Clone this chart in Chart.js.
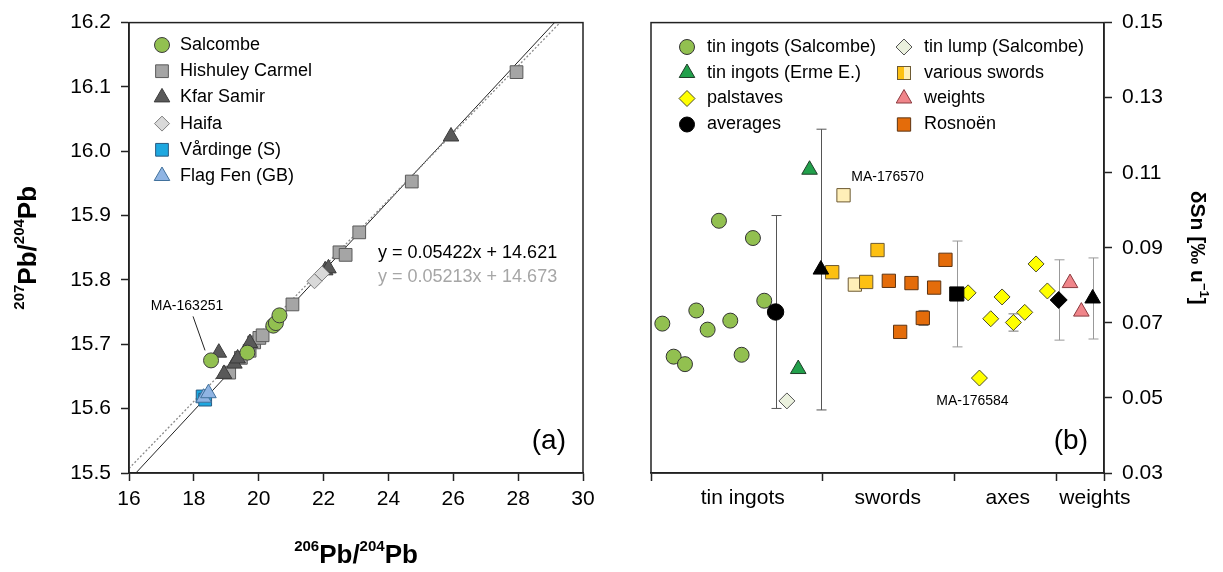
<!DOCTYPE html>
<html>
<head>
<meta charset="utf-8">
<script src="https://cdn.jsdelivr.net/npm/chart.js@4.4.1/dist/chart.umd.min.js"></script>
<style>
  body { margin: 0; background: #fff; }
  #wrap { position: relative; width: 1223px; height: 572px; }
  canvas { position: absolute; top: 0; }
  #leadChart { left: 0; }
  #tinChart { left: 620px; }
</style>
</head>
<body>
<div id="wrap">
  <canvas id="leadChart" width="620" height="572"></canvas>
  <canvas id="tinChart" width="603" height="572"></canvas>
</div>
<script>
// ---------- (a) lead isotope ratios ----------
const pbXTicks = [16, 18, 20, 22, 24, 26, 28, 30];
const pbYTicks = [15.5, 15.6, 15.7, 15.8, 15.9, 16.0, 16.1, 16.2];

const salcombeX = [18.53, 19.65, 20.45, 20.53, 20.64];
const salcombeY = [15.675, 15.687, 15.729, 15.733, 15.745];
const hishuleyX = [19.09, 19.45, 19.72, 19.86, 20.02, 20.12, 21.04, 22.49, 22.68, 23.10, 24.72, 27.95];
const hishuleyY = [15.656, 15.679, 15.690, 15.703, 15.710, 15.714, 15.762, 15.843, 15.839, 15.874, 15.953, 16.123];
const kfarX = [18.77, 18.93, 19.25, 19.35, 19.73, 22.05, 22.15, 25.93];
const kfarY = [15.687, 15.654, 15.670, 15.678, 15.702, 15.815, 15.818, 16.023];
const haifaX = [21.72, 21.95];
const haifaY = [15.798, 15.810];
const vardingeX = [18.27, 18.35];
const vardingeY = [15.619, 15.614];
const flagFenX = [18.30, 18.45];
const flagFenY = [15.617, 15.624];

// regression lines: all data (solid) and without outlier (dotted)
const fitSlope = [0.05422, 0.05213];
const fitIntercept = [14.621, 14.673];
const fitText = ["y = 0.05422x + 14.621", "y = 0.05213x + 14.673"];

// ---------- (b) tin isotope fractionation ----------
const snTicks = [0.03, 0.05, 0.07, 0.09, 0.11, 0.13, 0.15];
const groupBounds = [0, 15.1, 26.8, 35.8, 40];
const groupCenters = [8.1, 20.9, 31.5, 39.2];
const groupLabels = ["tin ingots", "swords", "axes", "weights"];

const ingotSalX = [1, 2, 3, 4, 5, 6, 7, 8, 9, 10];
const ingotSalY = [0.0698, 0.0610, 0.0590, 0.0733, 0.0682, 0.0972, 0.0706, 0.0615, 0.0926, 0.0759];
const lumpX = [12];
const lumpY = [0.0492];
const ingotErmeX = [13, 14];
const ingotErmeY = [0.0577, 0.1108];
const swordGoldX = [16, 19, 20];
const swordGoldY = [0.0835, 0.0809, 0.0894];
const swordPaleX = [17, 18];
const swordPaleY = [0.1040, 0.0802];
const rosnoenX = [21, 22, 23, 24, 25, 26];
const rosnoenY = [0.0812, 0.0676, 0.0806, 0.0713, 0.0794, 0.0868];
const palstaveX = [28, 29, 30, 31, 32, 33, 34, 35];
const palstaveY = [0.0780, 0.0553, 0.0711, 0.0769, 0.0701, 0.0728, 0.0857, 0.0785];
const weightX = [37, 38];
const weightY = [0.0806, 0.0730];
const averageX = [11, 15, 27, 36, 39];
const averageY = [0.0729, 0.0842, 0.0777, 0.0761, 0.0765];
const averageErr = [0.0257, 0.0374, 0.0141, 0.0107, 0.0108];
const averageShape = ["circle", "triangle", "rect", "rectRot", "triangle"];
// single measurements with visible uncertainty
const sampleErrX = [24, 32];
const sampleErrY = [0.0713, 0.0701];
const sampleErr = [0.0020, 0.0023];

const FONT = "'Liberation Sans', Arial, Helvetica, sans-serif";
Chart.defaults.font.family = FONT;
Chart.defaults.color = "#000";
Chart.defaults.animation = false;

const pairs = (xs, ys) => xs.map((x, i) => ({ x: x, y: ys[i] }));

function fitSegment(k) {
  const m = fitSlope[k], b = fitIntercept[k];
  const lo = pbYTicks[0], hi = pbYTicks[pbYTicks.length - 1];
  const x0 = Math.max(pbXTicks[0], (lo - b) / m);
  const x1 = Math.min(pbXTicks[pbXTicks.length - 1], (hi - b) / m);
  return [{ x: x0, y: m * x0 + b }, { x: x1, y: m * x1 + b }];
}

function drawMarker(ctx, style, x, y) {
  ctx.save();
  ctx.fillStyle = style.backgroundColor;
  ctx.strokeStyle = style.borderColor;
  ctx.lineWidth = style.borderWidth;
  Chart.helpers.drawPoint(ctx, {
    pointStyle: style.pointStyle,
    radius: style.pointRadius,
    borderWidth: style.borderWidth,
    rotation: 0
  }, x, y);
  ctx.restore();
}

// text runs with superscripts, centred on (cx, baseline) and optionally rotated
function drawRich(ctx, parts, cx, cy, rotation) {
  ctx.save();
  ctx.translate(cx, cy);
  ctx.rotate(rotation || 0);
  ctx.textBaseline = "alphabetic";
  ctx.textAlign = "left";
  let total = 0;
  parts.forEach(p => { ctx.font = p.font; p.w = ctx.measureText(p.text).width; total += p.w; });
  let x = -total / 2;
  parts.forEach(p => {
    ctx.font = p.font;
    ctx.fillStyle = "#000";
    ctx.fillText(p.text, x, p.dy || 0);
    x += p.w;
  });
  ctx.restore();
}

const frame = {
  id: "frame",
  afterDraw(chart) {
    const { ctx, chartArea: a } = chart;
    ctx.save();
    ctx.strokeStyle = "#222";
    ctx.lineWidth = 1.5;
    ctx.strokeRect(a.left, a.top, a.right - a.left, a.bottom - a.top);
    ctx.restore();
  }
};

const insetLegend = {
  id: "insetLegend",
  afterDraw(chart, args, opts) {
    const ctx = chart.ctx;
    ctx.save();
    ctx.textBaseline = "middle";
    ctx.textAlign = "left";
    opts.items.forEach(it => {
      const ds = chart.data.datasets[it.ds];
      if (it.split) {
        // two-tone square for the sword group
        const s = 6.5;
        ctx.fillStyle = it.split[0];
        ctx.fillRect(it.mx - s, it.y - s, s, 2 * s);
        ctx.fillStyle = it.split[1];
        ctx.fillRect(it.mx, it.y - s, s, 2 * s);
        ctx.strokeStyle = ds.borderColor;
        ctx.lineWidth = 1;
        ctx.strokeRect(it.mx - s, it.y - s, 2 * s, 2 * s);
      } else {
        drawMarker(ctx, Object.assign({}, ds, it.marker || {}), it.mx, it.y);
      }
      ctx.font = "18px " + FONT;
      ctx.fillStyle = "#000";
      ctx.fillText(it.text || ds.label, it.tx, it.y);
    });
    ctx.restore();
  }
};

const errorBars = {
  id: "errorBars",
  beforeDatasetsDraw(chart, args, opts) {
    const { ctx, scales: { x, y } } = chart;
    ctx.save();
    ctx.lineWidth = 1;
    opts.sets.forEach(set => {
      set.x.forEach((xv, i) => {
        const px = Math.round(x.getPixelForValue(xv)) + 0.5;
        const top = y.getPixelForValue(set.y[i] + set.err[i]);
        const bot = y.getPixelForValue(set.y[i] - set.err[i]);
        ctx.strokeStyle = set.colors[i];
        ctx.beginPath();
        ctx.moveTo(px, top); ctx.lineTo(px, bot);
        ctx.moveTo(px - 5, top); ctx.lineTo(px + 5, top);
        ctx.moveTo(px - 5, bot); ctx.lineTo(px + 5, bot);
        ctx.stroke();
      });
    });
    ctx.restore();
  }
};

function axisGrid() {
  return { drawOnChartArea: false, drawTicks: true, tickLength: 8, tickColor: "#222", tickWidth: 1.5 };
}
const axisBorder = { display: true, color: "#222", width: 1.5 };

// ---------- chart (a) ----------
const leadDatasets = [
  { label: "Salcombe", data: pairs(salcombeX, salcombeY), pointStyle: "circle", pointRadius: 7.5,
    backgroundColor: "#92c050", borderColor: "#3d3d3d", borderWidth: 1, order: 0 },
  { label: "Hishuley Carmel", data: pairs(hishuleyX, hishuleyY), pointStyle: "rect", pointRadius: 9,
    backgroundColor: "#a5a5a5", borderColor: "#5a5a5a", borderWidth: 1, order: 5 },
  { label: "Kfar Samir", data: pairs(kfarX, kfarY), pointStyle: "triangle", pointRadius: 9,
    backgroundColor: "#595959", borderColor: "#3a3a3a", borderWidth: 1, order: 3 },
  { label: "Haifa", data: pairs(haifaX, haifaY), pointStyle: "rectRot", pointRadius: 7.5,
    backgroundColor: "#d9d9d9", borderColor: "#7f7f7f", borderWidth: 1, order: 2 },
  { label: "Vårdinge (S)", data: pairs(vardingeX, vardingeY), pointStyle: "rect", pointRadius: 9,
    backgroundColor: "#1ea8e0", borderColor: "#2a5a80", borderWidth: 1, order: 4 },
  { label: "Flag Fen (GB)", data: pairs(flagFenX, flagFenY), pointStyle: "triangle", pointRadius: 9,
    backgroundColor: "#8fb4e3", borderColor: "#41719c", borderWidth: 1, order: 1 },
  { label: "fit all", data: fitSegment(0), showLine: true, pointRadius: 0,
    borderColor: "#222", borderWidth: 1, order: 9 },
  { label: "fit reduced", data: fitSegment(1), showLine: true, pointRadius: 0,
    borderColor: "#8a8a8a", borderWidth: 1.3, borderDash: [2, 2], order: 8 }
];

const leadNotes = {
  id: "leadNotes",
  afterDraw(chart) {
    const { ctx, scales: { x, y } } = chart;
    ctx.save();
    // label for the outlying Salcombe ingot
    const px = x.getPixelForValue(salcombeX[0]);
    const py = y.getPixelForValue(salcombeY[0]);
    ctx.font = "14px " + FONT;
    ctx.textAlign = "center";
    ctx.textBaseline = "middle";
    ctx.fillStyle = "#000";
    ctx.fillText("MA-163251", px - 24, py - 54);
    ctx.strokeStyle = "#222";
    ctx.lineWidth = 1;
    ctx.beginPath();
    ctx.moveTo(px - 18, py - 44);
    ctx.lineTo(px - 6, py - 10);
    ctx.stroke();

    ctx.font = "18px " + FONT;
    ctx.textAlign = "left";
    ctx.fillStyle = "#000";
    ctx.fillText(fitText[0], 378, 253);
    ctx.fillStyle = "#a6a6a6";
    ctx.fillText(fitText[1], 378, 277);

    ctx.font = "28px " + FONT;
    ctx.textAlign = "right";
    ctx.fillStyle = "#000";
    ctx.fillText("(a)", chart.chartArea.right - 17, 441);

    const big = "bold 26px " + FONT, small = "bold 15px " + FONT;
    drawRich(ctx, [
      { text: "206", font: small, dy: -12 }, { text: "Pb/", font: big },
      { text: "204", font: small, dy: -12 }, { text: "Pb", font: big }
    ], (chart.chartArea.left + chart.chartArea.right) / 2, 563, 0);
    drawRich(ctx, [
      { text: "207", font: small, dy: -12 }, { text: "Pb/", font: big },
      { text: "204", font: small, dy: -12 }, { text: "Pb", font: big }
    ], 36, (chart.chartArea.top + chart.chartArea.bottom) / 2, -Math.PI / 2);
    ctx.restore();
  }
};

new Chart(document.getElementById("leadChart"), {
  type: "scatter",
  data: { datasets: leadDatasets },
  options: {
    responsive: false,
    events: [],
    layout: { padding: { top: 18, right: 37, left: 0, bottom: 0 } },
    plugins: {
      legend: { display: false },
      tooltip: { enabled: false },
      insetLegend: {
        items: [0, 1, 2, 3, 4, 5].map((ds, i) => ({ ds: ds, mx: 162, tx: 180, y: 45 + i * 26.2 }))
      }
    },
    scales: {
      x: {
        type: "linear", min: 16, max: 30,
        afterBuildTicks: s => { s.ticks = pbXTicks.map(v => ({ value: v })); },
        afterFit: s => { s.height = 99; },
        ticks: { font: { size: 21 }, color: "#000", padding: 6, maxRotation: 0, autoSkip: false },
        grid: axisGrid(), border: axisBorder
      },
      y: {
        type: "linear", min: 15.5, max: 16.2,
        afterBuildTicks: s => { s.ticks = pbYTicks.map(v => ({ value: v })); },
        afterFit: s => { s.width = 129; },
        ticks: { font: { size: 21 }, color: "#000", padding: 10, autoSkip: false,
          callback: v => v.toFixed(1) },
        grid: axisGrid(), border: axisBorder
      }
    }
  },
  plugins: [frame, insetLegend, leadNotes]
});

// ---------- chart (b) ----------
const tinDatasets = [
  { label: "averages", data: pairs(averageX, averageY), pointStyle: averageShape,
    pointRadius: [8.2, 9, 10, 8.5, 9], backgroundColor: "#000", borderColor: "#000", borderWidth: 1, order: 0 },
  { label: "tin ingots (Salcombe)", data: pairs(ingotSalX, ingotSalY), pointStyle: "circle", pointRadius: 7.5,
    backgroundColor: "#92c050", borderColor: "#333", borderWidth: 1, order: 2 },
  { label: "tin lump (Salcombe)", data: pairs(lumpX, lumpY), pointStyle: "rectRot", pointRadius: 8,
    backgroundColor: "#ebf1de", borderColor: "#555", borderWidth: 1, order: 2 },
  { label: "tin ingots (Erme E.)", data: pairs(ingotErmeX, ingotErmeY), pointStyle: "triangle", pointRadius: 9,
    backgroundColor: "#22a04b", borderColor: "#1f3d28", borderWidth: 1, order: 2 },
  { label: "various swords", data: pairs(swordGoldX, swordGoldY), pointStyle: "rect", pointRadius: 9.4,
    backgroundColor: "#fdc012", borderColor: "#6d5a33", borderWidth: 1, order: 1 },
  { label: "various swords", data: pairs(swordPaleX, swordPaleY), pointStyle: "rect", pointRadius: 9.4,
    backgroundColor: "#ffefb8", borderColor: "#6d5a33", borderWidth: 1, order: 1 },
  { label: "Rosnoën", data: pairs(rosnoenX, rosnoenY), pointStyle: "rect", pointRadius: 9.4,
    backgroundColor: "#e46c0a", borderColor: "#5e3412", borderWidth: 1, order: 2 },
  { label: "palstaves", data: pairs(palstaveX, palstaveY), pointStyle: "rectRot", pointRadius: 8,
    backgroundColor: "#ffff00", borderColor: "#4d4d2a", borderWidth: 1, order: 2 },
  { label: "weights", data: pairs(weightX, weightY), pointStyle: "triangle", pointRadius: 9,
    backgroundColor: "#f0858a", borderColor: "#8a3a3f", borderWidth: 1, order: 2 }
];

const tinNotes = {
  id: "tinNotes",
  afterDraw(chart) {
    const { ctx, scales: { x, y } } = chart;
    ctx.save();
    ctx.font = "14px " + FONT;
    ctx.textAlign = "center";
    ctx.textBaseline = "middle";
    ctx.fillStyle = "#000";
    ctx.fillText("MA-176570", x.getPixelForValue(swordPaleX[0]) + 44, y.getPixelForValue(swordPaleY[0]) - 18);
    ctx.fillText("MA-176584", x.getPixelForValue(palstaveX[1]) - 7, y.getPixelForValue(palstaveY[1]) + 23);

    ctx.font = "28px " + FONT;
    ctx.textAlign = "right";
    ctx.fillText("(b)", chart.chartArea.right - 16, 441);

    const big = "bold 21px " + FONT, small = "bold 13px " + FONT;
    drawRich(ctx, [
      { text: "δSn [‰ u", font: big }, { text: "−1", font: small, dy: -9 }, { text: "]", font: big }
    ], 571, (chart.chartArea.top + chart.chartArea.bottom) / 2, Math.PI / 2);
    ctx.restore();
  }
};

const errGray = "#777", errLight = "#999";

new Chart(document.getElementById("tinChart"), {
  type: "scatter",
  data: { datasets: tinDatasets },
  options: {
    responsive: false,
    events: [],
    layout: { padding: { top: 18, right: 0, left: 31, bottom: 0 } },
    plugins: {
      legend: { display: false },
      tooltip: { enabled: false },
      errorBars: {
        sets: [
          { x: averageX, y: averageY, err: averageErr, colors: ["#555", "#555", errLight, errLight, errLight] },
          { x: sampleErrX, y: sampleErrY, err: sampleErr, colors: [errGray, errGray] }
        ]
      },
      insetLegend: {
        items: [
          { ds: 1, mx: 687, tx: 707, y: 47 },
          { ds: 3, mx: 687, tx: 707, y: 73 },
          { ds: 7, mx: 687, tx: 707, y: 98.5 },
          { ds: 0, mx: 687, tx: 707, y: 124.5, marker: { pointStyle: "circle", pointRadius: 7.5 } },
          { ds: 2, mx: 904, tx: 924, y: 47 },
          { ds: 4, mx: 904, tx: 924, y: 73, split: ["#fdc012", "#ffefb8"] },
          { ds: 8, mx: 904, tx: 924, y: 98.5 },
          { ds: 6, mx: 904, tx: 924, y: 124.5 }
        ].map(it => Object.assign(it, { mx: it.mx - 620, tx: it.tx - 620 }))
      }
    },
    scales: {
      x: {
        type: "linear", min: 0, max: 40,
        afterBuildTicks: s => {
          s.ticks = groupBounds.concat(groupCenters).sort((a, b) => a - b).map(v => ({ value: v }));
        },
        afterFit: s => { s.height = 99; },
        ticks: {
          font: { size: 21 }, color: "#000", padding: 5, maxRotation: 0, minRotation: 0, autoSkip: false,
          callback: v => { const i = groupCenters.indexOf(v); return i >= 0 ? groupLabels[i] : ""; }
        },
        grid: Object.assign(axisGrid(), {
          tickColor: c => (c.tick && groupCenters.includes(c.tick.value) ? "rgba(0,0,0,0)" : "#222")
        }),
        border: axisBorder
      },
      y: {
        type: "linear", position: "right", min: 0.03, max: 0.15,
        afterBuildTicks: s => { s.ticks = snTicks.map(v => ({ value: v })); },
        afterFit: s => { s.width = 119; },
        ticks: { font: { size: 21 }, color: "#000", padding: 10, autoSkip: false,
          callback: v => v.toFixed(2) },
        grid: axisGrid(), border: axisBorder
      }
    }
  },
  plugins: [errorBars, frame, insetLegend, tinNotes]
});
</script>
</body>
</html>
